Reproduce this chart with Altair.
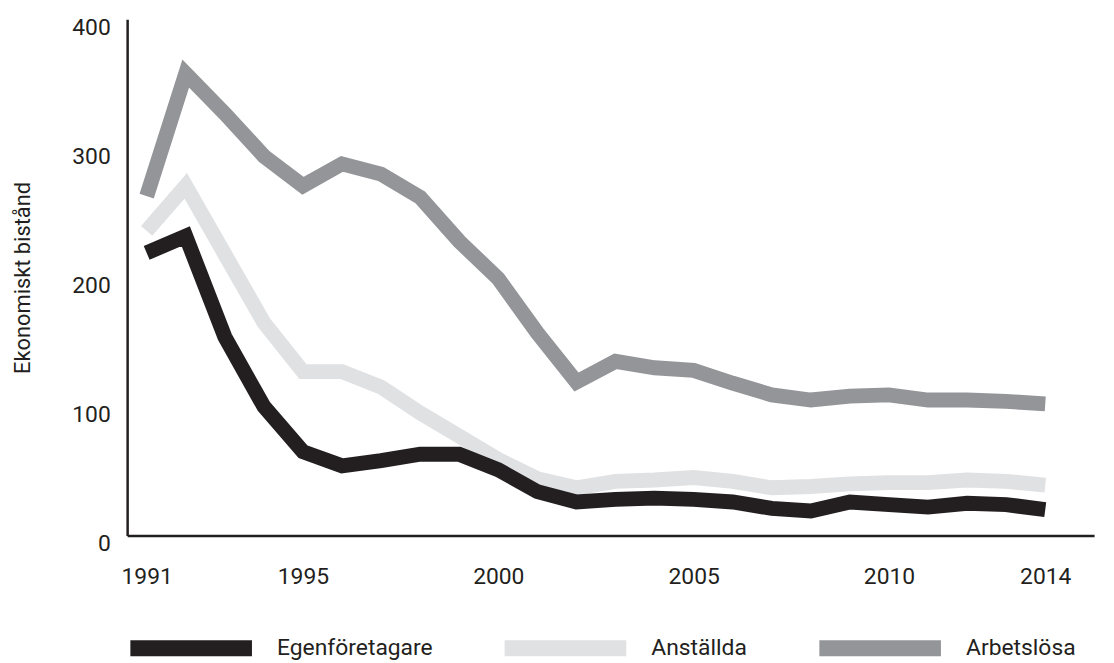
import altair as alt
import pandas as pd

years = list(range(1991, 2015))
series_names = ["Egenföretagare", "Anställda", "Arbetslösa"]
colors = ["#231f20", "#e0e1e3", "#939598"]

egen = [219, 232, 154, 100, 65, 54, 58, 63, 63, 51, 34, 26,
        28, 29, 28, 26, 21, 19, 26, 24, 22, 25, 24, 20]
anst = [236, 271, 218, 165, 127, 127, 115, 95, 77, 59, 44, 37,
        42, 43, 45, 42, 37, 38, 40, 41, 41, 43, 42, 39]
arbl = [263, 358, 327, 294, 271, 288, 280, 262, 228, 199, 157, 119,
        135, 130, 128, 118, 109, 105, 108, 109, 105, 105, 104, 102]

x_ticks = [1991, 1995, 2000, 2005, 2010, 2014]
y_ticks = [0, 100, 200, 300, 400]

rows = []
for name, vals in zip(series_names, [egen, anst, arbl]):
    for yr, v in zip(years, vals):
        rows.append({"År": yr, "Värde": v, "Grupp": name})
df = pd.DataFrame(rows)

FONT = "Roboto"
DARK = "#231f20"

x = alt.X("År:Q",
          scale=alt.Scale(domain=[1990.5, 2015.25], nice=False, zero=False),
          axis=alt.Axis(values=x_ticks, format="d", title=None, grid=False,
                        ticks=False, labelPadding=30, labelFontSize=23,
                        labelFont=FONT, labelColor=DARK, domainColor=DARK,
                        domainWidth=2.5))
y = alt.Y("Värde:Q",
          scale=alt.Scale(domain=[0, 400], nice=False),
          axis=alt.Axis(values=y_ticks, title="Ekonomiskt bistånd", grid=False,
                        ticks=False, labelPadding=17, labelFontSize=23,
                        labelOffset=8, labelFont=FONT, labelColor=DARK,
                        titleFont=FONT, titleFontSize=22, titleFontWeight="normal",
                        titleColor=DARK, titlePadding=38,
                        domainColor=DARK, domainWidth=2.5))
color = alt.Color("Grupp:N",
                  scale=alt.Scale(domain=series_names, range=colors),
                  sort=series_names,
                  legend=alt.Legend(title=None, orient="none", legendX=-5, legendY=564,
                                    direction="horizontal", symbolType="stroke",
                                    symbolSize=15000, symbolStrokeWidth=16,
                                    labelFont=FONT, labelFontSize=23, labelColor=DARK,
                                    labelOffset=17, columnPadding=40, padding=0,
                                    gridAlign="none", labelLimit=400))

base = alt.Chart(df).mark_line(strokeWidth=15, strokeJoin="miter", strokeCap="butt")

back = base.transform_filter(alt.datum.Grupp != "Egenföretagare").encode(x=x, y=y, color=color)
front = base.transform_filter(alt.datum.Grupp == "Egenföretagare").encode(x=x, y=y, color=color)

chart = alt.layer(back, front).properties(
    width=974, height=520,
    background="white",
    autosize=alt.AutoSizeParams(type="none"),
    padding={"left": 120, "top": 9, "right": 12, "bottom": 126},
).configure_view(stroke=None, strokeWidth=0)

chart.save("out.html", embed_options={"renderer": "svg", "actions": False})
